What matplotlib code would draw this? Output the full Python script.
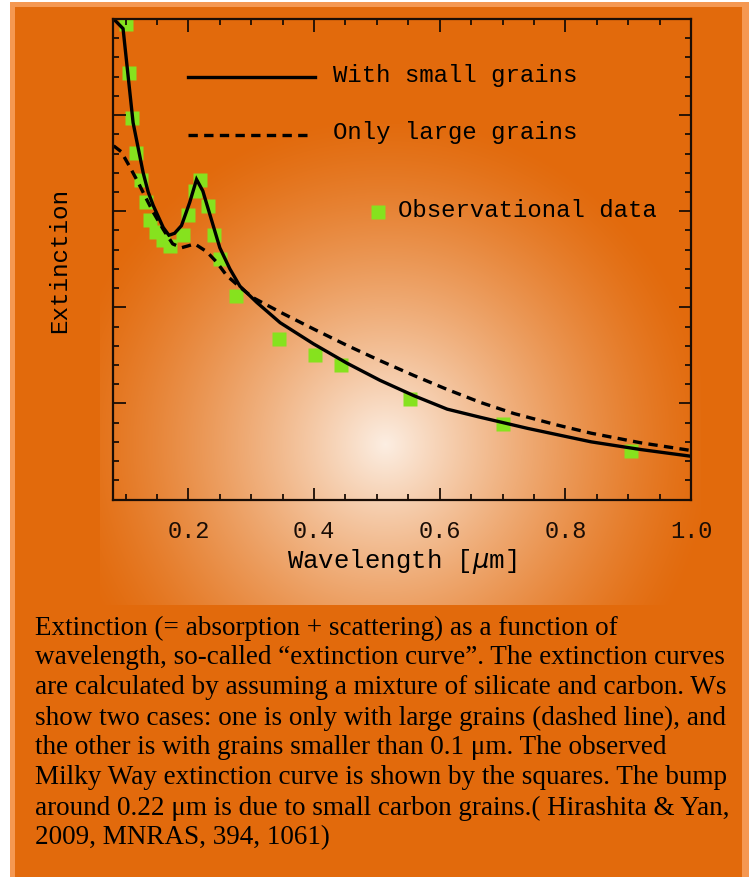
import numpy as np
import matplotlib.pyplot as plt
from matplotlib.ticker import MultipleLocator, NullFormatter

# -------------------------
# data (extinction in arbitrary units)
# -------------------------
# observed Milky Way extinction curve (green squares)
obs_wave = [0.100, 0.105, 0.111, 0.117, 0.125, 0.133, 0.139, 0.148, 0.159, 0.171,
            0.191, 0.199, 0.211, 0.219, 0.231, 0.240, 0.251, 0.275, 0.345, 0.402,
            0.443, 0.552, 0.701, 0.904]
obs_ext = [4.95, 4.44, 3.97, 3.61, 3.32, 3.10, 2.91, 2.78, 2.70, 2.64,
           2.75, 2.96, 3.21, 3.32, 3.05, 2.75, 2.50, 2.12, 1.67, 1.50,
           1.40, 1.05, 0.79, 0.50]

# model with small grains (solid)
small_wave = [0.081, 0.096, 0.112, 0.128, 0.136, 0.144, 0.160, 0.169, 0.178, 0.189,
              0.202, 0.213, 0.223, 0.234, 0.250, 0.266, 0.282, 0.309, 0.346, 0.399,
              0.452, 0.505, 0.559, 0.612, 0.665, 0.740, 0.841, 0.920, 1.000]
small_ext = [5.00, 4.90, 3.92, 3.40, 3.20, 3.06, 2.83, 2.75, 2.77, 2.85,
             3.09, 3.33, 3.21, 2.97, 2.62, 2.40, 2.22, 2.05, 1.84, 1.62,
             1.42, 1.24, 1.08, 0.94, 0.855, 0.74, 0.60, 0.52, 0.45]

# model with only large grains (dashed)
large_wave = [0.081, 0.093, 0.106, 0.120, 0.133, 0.144, 0.160, 0.175, 0.189, 0.200,
              0.210, 0.229, 0.245, 0.261, 0.282, 0.303, 0.346, 0.399, 0.452, 0.505,
              0.559, 0.612, 0.665, 0.718, 0.787, 0.841, 0.920, 1.000]
large_ext = [3.68, 3.62, 3.47, 3.30, 3.13, 2.99, 2.81, 2.66, 2.62, 2.64,
             2.66, 2.58, 2.47, 2.33, 2.21, 2.10, 1.95, 1.775, 1.605, 1.445,
             1.29, 1.145, 1.01, 0.895, 0.775, 0.69, 0.59, 0.51]

caption = [
    "Extinction (= absorption + scattering) as a function of",
    "wavelength, so-called \u201cextinction curve\u201d. The extinction curves",
    "are calculated by assuming a mixture of silicate and carbon. Ws",
    "show two cases: one is only with large grains (dashed line), and",
    "the other is with grains smaller than 0.1 \u03bcm. The observed",
    "Milky Way extinction curve is shown by the squares. The bump",
    "around 0.22 \u03bcm is due to small carbon grains.( Hirashita & Yan,",
    "2009, MNRAS, 394, 1061)",
]

W, H = 749, 878
DARK = np.array([226, 106, 12]) / 255
EDGE = np.array([245, 152, 82]) / 255
CREAM = np.array([252, 238, 226]) / 255
GREEN = "#86e21e"
MONO = "Liberation Mono"

# -------------------------
# background: orange panel with a soft light glow behind the plot
# -------------------------
yy, xx = np.mgrid[0:H, 0:W]
img = np.ones((H, W, 3))
img[(xx >= 10) & (yy >= 3)] = EDGE
panel = (xx >= 15) & (yy >= 8) & (xx < 742)
img[panel] = DARK
d = np.hypot((xx - 385) / 330, (yy - 445) / 330)
f = np.clip(1 - d, 0, 1) ** 1.3
f[(xx < 100) | (xx > 700) | (yy < 125) | (yy > 605)] = 0
glow = DARK + (CREAM - DARK) * f[..., None]
img[panel] = glow[panel]

fig = plt.figure(figsize=(W / 100, H / 100), dpi=100)
bg = fig.add_axes([0, 0, 1, 1], zorder=0)
bg.imshow(img, aspect="auto", interpolation="bilinear")
bg.axis("off")

# -------------------------
# main plot
# -------------------------
ax = fig.add_axes([113 / W, 1 - 500.5 / H, 578 / W, 480.5 / H], zorder=1)
ax.patch.set_alpha(0)

ax.plot(small_wave, small_ext, color="black", lw=2.4, solid_joinstyle="miter")
ax.plot(large_wave, large_ext, color="black", lw=2.4, dashes=(2.8, 1.9))
ax.plot(obs_wave, obs_ext, "s", color=GREEN, ms=9.5, mec="none", zorder=0)

ax.set_xlim(0.08, 1.0)
ax.set_ylim(0, 5)
ax.xaxis.set_major_locator(MultipleLocator(0.2))
ax.xaxis.set_minor_locator(MultipleLocator(0.05))
ax.yaxis.set_major_locator(MultipleLocator(1))
ax.yaxis.set_minor_locator(MultipleLocator(0.2))
ax.yaxis.set_major_formatter(NullFormatter())
ax.tick_params(which="both", direction="in", top=True, right=True, width=1.3,
               colors="#1a0d05")
ax.tick_params(which="major", length=9)
ax.tick_params(which="minor", length=4.5)
ax.tick_params(axis="x", which="major", pad=14)
ax.tick_params(axis="y", which="major", pad=4)
for lab in ax.get_xticklabels():
    lab.set_fontfamily(MONO)
    lab.set_fontsize(17)
for s in ax.spines.values():
    s.set_linewidth(1.6)
    s.set_color("#1a0d05")

ax.set_xlabel("Wavelength [$\\mu$m]", fontsize=18.5, family=MONO, labelpad=3)
ax.set_ylabel("Extinction", fontsize=17.5, family=MONO, labelpad=26)

# legend drawn by hand, as in the original
tr = ax.transAxes
ax.plot([0.130, 0.350], [0.879, 0.879], color="black", lw=2.4, transform=tr)
ax.text(0.381, 0.885, "With small grains", fontsize=17.3, family=MONO,
        va="center", transform=tr)
ax.plot([0.130, 0.340], [0.759, 0.759], color="black", lw=2.4, dashes=(2.8, 1.9),
        transform=tr)
ax.text(0.381, 0.765, "Only large grains", fontsize=17.3, family=MONO,
        va="center", transform=tr)
ax.plot([0.458], [0.599], "s", color=GREEN, ms=9.5, mec="none", transform=tr)
ax.text(0.4936, 0.6045, "Observational data", fontsize=17.3, family=MONO,
        va="center", transform=tr)

# -------------------------
# caption
# -------------------------
for i, line in enumerate(caption):
    fig.text(35 / W, 1 - (628 + 30 * i) / H, line, fontsize=19.5,
             family="Liberation Serif", va="center", color="black")

fig.savefig("out.png", dpi=100)
